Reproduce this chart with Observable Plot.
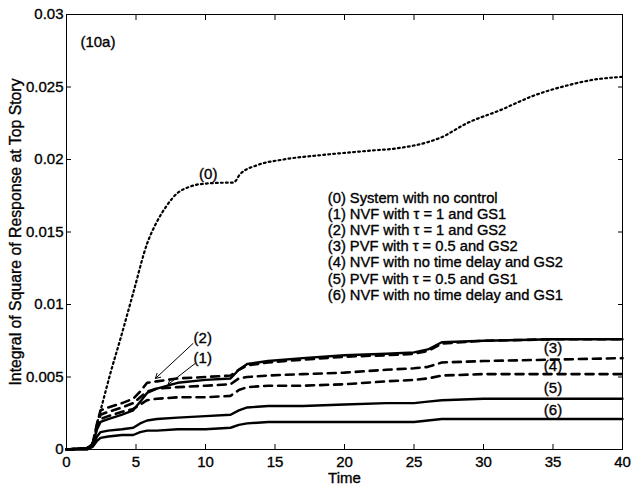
<!DOCTYPE html>
<html>
<head>
<meta charset="utf-8">
<script src="https://cdn.jsdelivr.net/npm/d3@7"></script>
<script src="https://cdn.jsdelivr.net/npm/@observablehq/plot@0.6"></script>
<style>
  html, body { margin: 0; padding: 0; background: #fff; }
  #chart { width: 631px; height: 489px; }
  #chart svg g[aria-label$="tick label"] text { stroke: black; stroke-width: 0.35px; }
</style>
</head>
<body>
<div id="chart"></div>
<script>
// ---- tick values ----
const xTicks = [0, 5, 10, 15, 20, 25, 30, 35, 40];
const yTicks = [0, 0.005, 0.01, 0.015, 0.02, 0.025, 0.03];

// ---- series (0): system with no control (dotted) ----
const t0 = [0, 1.5, 1.9, 2.2, 2.45, 3.2, 3.9, 4.8, 5.8, 6.5, 7.2, 8.0, 8.8, 9.6, 11.5, 12.0, 12.5, 13.7, 15.6, 18.3, 21.7, 24, 26, 26.9, 28.8, 31.2, 33.6, 36, 37.9, 40];
const s0 = [0, 0.0001, 0.0005, 0.0018, 0.0027, 0.0054, 0.0077, 0.0108, 0.0142, 0.0157, 0.0168, 0.0177, 0.0181, 0.0183, 0.0184, 0.0184, 0.0190, 0.0196, 0.0200, 0.0203, 0.0206, 0.0208, 0.0212, 0.0215, 0.0225, 0.0234, 0.0244, 0.0251, 0.0255, 0.0257];

// ---- series (1)-(6), shared time grid ----
const t = [0, 1.5, 1.9, 2.2, 2.45, 3, 4, 4.8, 5.3, 5.8, 6.5, 8, 10, 11.8, 12.4, 13, 14.5, 17, 20, 23, 25, 26, 27, 30, 35, 40];
const s1 = [0, 0.0001, 0.0004, 0.0014, 0.0019, 0.0021, 0.0024, 0.0027, 0.0033, 0.0039, 0.0042, 0.0046, 0.0048, 0.0049, 0.0055, 0.0059, 0.0061, 0.0063, 0.0065, 0.0066, 0.0067, 0.0069, 0.0074, 0.0075, 0.0076, 0.0076];
const s2 = [0, 0.0001, 0.0005, 0.0018, 0.0027, 0.0029, 0.0032, 0.0035, 0.0040, 0.0046, 0.0047, 0.0049, 0.0050, 0.0051, 0.0055, 0.0058, 0.0060, 0.0062, 0.0064, 0.0065, 0.0066, 0.0068, 0.0073, 0.0075, 0.0076, 0.0076];
const s3 = [0, 0.0001, 0.0004, 0.0016, 0.0024, 0.0026, 0.0029, 0.0032, 0.0036, 0.0040, 0.0042, 0.0043, 0.0044, 0.0045, 0.0049, 0.0050, 0.0051, 0.0052, 0.0053, 0.0055, 0.0056, 0.0057, 0.0060, 0.0061, 0.0062, 0.0063];
const s4 = [0, 0.0001, 0.0004, 0.0015, 0.0021, 0.0023, 0.0026, 0.0028, 0.0031, 0.0034, 0.0035, 0.0036, 0.0036, 0.0037, 0.0041, 0.0043, 0.0044, 0.0044, 0.0045, 0.0047, 0.0048, 0.0049, 0.0051, 0.0052, 0.0052, 0.0052];
const s5 = [0, 0.0001, 0.0003, 0.0009, 0.0012, 0.0013, 0.0014, 0.0015, 0.0018, 0.0020, 0.0021, 0.0022, 0.0023, 0.0024, 0.0027, 0.0029, 0.0030, 0.0030, 0.0031, 0.0032, 0.0032, 0.0033, 0.0034, 0.0035, 0.0035, 0.0035];
const s6 = [0, 0.0000, 0.0002, 0.0006, 0.0008, 0.0009, 0.0010, 0.0010, 0.0012, 0.0013, 0.0013, 0.0014, 0.0014, 0.0015, 0.0017, 0.0018, 0.0019, 0.0019, 0.0019, 0.0019, 0.0019, 0.0020, 0.0021, 0.0021, 0.0021, 0.0021];

// ---- text annotations ----
const legendLines = [
  "(0) System with no control",
  "(1) NVF with \u03c4 = 1 and GS1",
  "(2) NVF with \u03c4 = 1 and GS2",
  "(3) PVF with \u03c4 = 0.5 and GS2",
  "(4) NVF with no time delay and GS2",
  "(5) PVF with \u03c4 = 0.5 and GS1",
  "(6) NVF with no time delay and GS1"
];
const legendAt = {x: 18.8, y: 0.01403};
const curveLabels = [
  {label: "(0)", x: 10.2, y: 0.0190},
  {label: "(2)", x: 9.8, y: 0.00766},
  {label: "(1)", x: 9.8, y: 0.00628},
  {label: "(3)", x: 35.0, y: 0.00697},
  {label: "(4)", x: 35.0, y: 0.00572},
  {label: "(5)", x: 35.0, y: 0.00421},
  {label: "(6)", x: 35.0, y: 0.00269}
];
const arrows = [
  {x1: 9.1, y1: 0.00731, x2: 6.4, y2: 0.0049},
  {x1: 9.25, y1: 0.00593, x2: 7.3, y2: 0.00448}
];
const panelTag = {label: "(10a)", x: 1.0, y: 0.0281};
const xLabel = "Time";
const yLabel = "Integral of Square of Response at Top Story";

const rows = (ts, vs) => ts.map((x, i) => ({t: x, v: vs[i]}));

const font = "Arial, 'Liberation Sans', Helvetica, sans-serif";
const txt = {fill: "black", stroke: "black", strokeWidth: 0.35};

const chart = Plot.plot({
  width: 631,
  height: 489,
  marginLeft: 66,
  marginRight: 9,
  marginTop: 14,
  marginBottom: 40,
  style: {fontFamily: font, fontSize: "15px", color: "black", background: "white"},
  x: {domain: [0, 40], label: null},
  y: {domain: [0, 0.03], label: null},
  marks: [
    Plot.frame({stroke: "black", strokeWidth: 1}),
    Plot.axisX({anchor: "bottom", ticks: xTicks, tickSize: -5, tickPadding: 12, tickFormat: d => String(d), fontSize: 15, label: null}),
    Plot.axisX({anchor: "top", ticks: xTicks, tickSize: -5, tickFormat: () => "", label: null}),
    Plot.axisY({anchor: "left", ticks: yTicks, tickSize: -5, tickPadding: 8, tickFormat: d => String(+d.toFixed(3)), fontSize: 15, label: null}),
    Plot.axisY({anchor: "right", ticks: yTicks, tickSize: -5, tickFormat: () => "", label: null}),
    Plot.line(rows(t0, s0), {x: "t", y: "v", stroke: "black", strokeWidth: 2.2, strokeDasharray: "1.8,3.2", curve: "monotone-x"}),
    Plot.line(rows(t, s6), {x: "t", y: "v", stroke: "black", strokeWidth: 2.4}),
    Plot.line(rows(t, s5), {x: "t", y: "v", stroke: "black", strokeWidth: 2.4}),
    Plot.line(rows(t, s4), {x: "t", y: "v", stroke: "black", strokeWidth: 2.6, strokeDasharray: "8,6"}),
    Plot.line(rows(t, s3), {x: "t", y: "v", stroke: "black", strokeWidth: 2.6, strokeDasharray: "8,6"}),
    Plot.line(rows(t, s2), {x: "t", y: "v", stroke: "black", strokeWidth: 2.6, strokeDasharray: "8,6"}),
    Plot.line(rows(t, s1), {x: "t", y: "v", stroke: "black", strokeWidth: 2.4}),
    Plot.arrow(arrows, {x1: "x1", y1: "y1", x2: "x2", y2: "y2", stroke: "black", strokeWidth: 1, headLength: 8}),
    Plot.text(curveLabels, {x: "x", y: "y", text: "label", fontSize: 15, ...txt}),
    Plot.text([panelTag], {x: "x", y: "y", text: "label", textAnchor: "start", fontSize: 15, ...txt}),
    Plot.text([legendLines.join("\n")], {x: () => legendAt.x, y: () => legendAt.y, textAnchor: "start", lineAnchor: "middle", lineHeight: 1.1, fontSize: 14.7, ...txt}),
    Plot.text([yLabel], {frameAnchor: "left", textAnchor: "middle", lineAnchor: "middle", rotate: -90, dx: -51, fontSize: 15.8, ...txt}),
    Plot.text([xLabel], {frameAnchor: "bottom", textAnchor: "middle", lineAnchor: "middle", dy: 29, fontSize: 15, ...txt})
  ]
});

document.getElementById("chart").appendChild(chart);
</script>
</body>
</html>
